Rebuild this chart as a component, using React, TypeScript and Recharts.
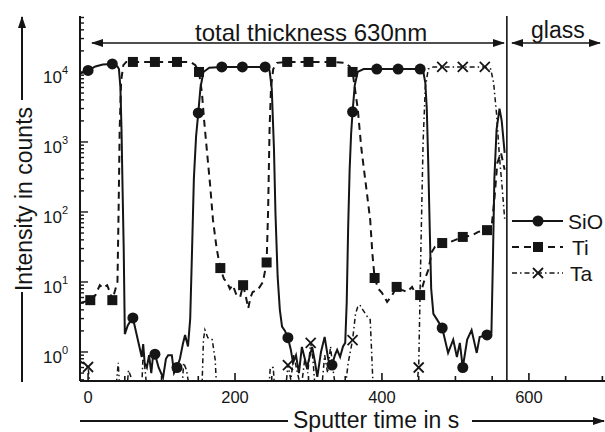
import { LineChart, Line, XAxis, YAxis, ReferenceLine } from 'recharts';

// SIMS depth profile of a SiO / Ti / Ta multilayer on glass
// time in s, intensity in counts

const INK = '#151515';
const FONT = '"Liberation Sans", Arial, Helvetica, sans-serif';

const sioCounts: [number, number][] = [
    [-11, 9500], [0, 10500], [10, 12000], [20, 12800], [33, 13000], [40, 12000], [42, 11000], [44, 6000],
    [45.5, 1500], [47, 200], [48.5, 30], [50, 1.8], [54, 2.4], [58, 2.8], [61, 3.06], [65, 2.0], [69, 1.3],
    [73, 0.85], [75, 1.3], [77, 0.7], [80, 0.6], [83, 0.9], [86, 0.5], [88, 0.8], [91, 0.93], [96, 0.6],
    [102, 0.43], [106, 0.8], [109, 0.9], [114, 0.9], [117, 0.5], [121, 0.6], [125, 0.8], [129, 1.3],
    [132, 1.75], [136, 1.2], [139, 3], [141.5, 28], [144, 300], [147, 1200], [150, 2600], [153, 6000],
    [157, 10000], [165, 11500], [182, 11800], [210, 11800], [241, 11800], [247, 10500], [250, 5800],
    [253, 800], [255, 100], [258, 12], [261, 4], [264, 2.3], [268, 2.0], [272, 1.6], [276, 1.07], [279, 0.7],
    [283, 0.9], [287, 0.5], [291, 1.18], [295, 0.8], [298, 0.6], [302, 0.9], [305, 1.18], [309, 0.7],
    [312, 0.44], [317, 1.0], [322, 1.64], [327, 0.77], [332, 0.65], [336, 0.9], [339, 1.07], [343, 0.85],
    [347, 1.2], [350, 1.35], [352, 5], [354, 60], [356, 400], [358, 1300], [360, 2700], [363, 6500],
    [367, 10000], [375, 11000], [393, 11000], [422, 11000], [452, 11000], [456, 10500], [459, 7000],
    [461, 3000], [463, 500], [465, 60], [467, 8], [470, 3.5], [475, 2.9], [482, 2.2], [490, 0.97],
    [497, 1.5], [502, 0.85], [506, 1.35], [510, 0.6], [516, 1.5], [522, 2.06], [529, 0.97], [533, 1.64],
    [543, 1.75], [549, 1.9], [551, 20], [553, 300], [556, 1500], [560, 3000], [563, 2000], [567, 700],
];
const sioMarkers = [0, 33, 61, 91, 121, 150, 182, 210, 241, 272, 332, 360, 393, 422, 452, 482, 510, 543];

const tiCounts: [number, number][] = [
    [-11, 5.0], [3, 5.5], [10, 6.5], [16, 9], [20, 8.2], [26, 9], [30, 7], [33, 5.5], [40, 10], [41.5, 100],
    [43, 1500], [45, 7500], [48, 12500], [52, 13900], [61, 13900], [91, 13900], [121, 13900], [140, 13800],
    [146, 12500], [151, 10000], [155, 5000], [158, 2000], [162, 700], [166, 250], [170, 77], [175, 30],
    [180, 15.8], [185, 11], [189, 10], [193, 8], [197, 9], [202, 6.5], [207, 6.1], [211, 9], [215, 6],
    [218, 4.2], [221, 6], [224, 7.2], [231, 7.7], [238, 10], [243, 19], [245, 100], [247, 1500], [249, 6000],
    [252, 11000], [257, 13500], [271, 13900], [300, 13900], [331, 13900], [350, 13500], [356, 12000],
    [360, 10000], [363, 6000], [367, 3000], [372, 800], [378, 250], [384, 77], [387, 25], [390, 11.4],
    [395, 8], [400, 7], [407, 5.2], [414, 6.5], [420, 8.5], [427, 7.7], [434, 7.2], [441, 8.5], [445, 7],
    [452, 6.5], [457, 10], [463, 14.8], [468, 27], [472, 31.6], [482, 36], [490, 36], [500, 40], [510, 44],
    [522, 46], [531, 52], [543, 55], [549, 58], [553, 150], [557, 500], [562, 700], [567, 400],
];
const tiMarkers = [3, 33, 61, 91, 121, 151, 180, 211, 243, 271, 300, 331, 360, 390, 420, 452, 482, 510, 543];

const taCounts: [number, number][] = [
    [-11, 0.75], [0, 0.61], [3, 0.3], [38, 0.3], [41, 0.7], [43, 0.3], [53, 0.3], [55, 0.55], [58, 0.45],
    [60, 0.3], [73, 0.3], [75, 1.0], [78, 0.5], [80, 0.3], [128, 0.3], [130, 0.7], [134, 0.55], [138, 0.3],
    [155, 0.3], [157, 1.5], [159, 2.06], [163, 1.6], [169, 1.5], [173, 0.77], [175, 0.3], [246, 0.3],
    [248, 0.6], [252, 0.6], [254, 0.3], [269, 0.3], [272, 0.65], [276, 0.4], [280, 0.9], [285, 0.5],
    [290, 0.3], [295, 0.8], [299, 0.5], [303, 1.35], [306, 0.8], [309, 0.3], [318, 0.3], [322, 0.9],
    [326, 0.5], [330, 1.2], [333, 0.6], [337, 0.3], [350, 0.3], [354, 0.7], [360, 1.48], [364, 3.5],
    [367, 4.4], [370, 4.7], [374, 4.0], [380, 3.2], [384, 2.9], [386, 0.97], [388, 0.3], [447, 0.3],
    [450, 0.6], [453, 30], [456, 1000], [459, 6000], [463, 11000], [470, 11800], [482, 11800],
    [510, 11800], [540, 11800], [548, 11000], [552, 7000], [556, 2500], [560, 600], [564, 200], [567, 80],
];
const taMarkers = [0, 272, 303, 360, 450, 482, 510, 540];

const xTicks = [0, 50, 100, 150, 200, 250, 300, 350, 400, 450, 500, 550, 600, 650, 700];
const yTicks = [
    0.4, 0.5, 0.6, 0.7, 0.8, 0.9, 1, 2, 3, 4, 5, 6, 7, 8, 9, 10, 20, 30, 40, 50, 60, 70, 80, 90,
    100, 200, 300, 400, 500, 600, 700, 800, 900, 1000, 2000, 3000, 4000, 5000, 6000, 7000, 8000, 9000,
    10000, 20000, 30000, 40000, 50000, 60000,
];
const glassStart = 570;

const toRows = (pts: [number, number][]) => pts.map(([t, v]) => ({ t, v }));
const sioData = toRows(sioCounts);
const tiData = toRows(tiCounts);
const taData = toRows(taCounts);

const XTick = (props: any) => {
    const { x, y, payload } = props;
    const major = payload.value % 200 === 0;
    return (
        <g>
            <line x1={x} x2={x} y1={y} y2={y - (major ? 8 : 5)} stroke={INK} strokeWidth={1.6} />
            {major && (
                <text x={x} y={y + 22} textAnchor="middle" fontSize={16.5} fontFamily={FONT} fill={INK}>
                    {payload.value}
                </text>
            )}
        </g>
    );
};

const YTick = (props: any) => {
    const { x, y, payload } = props;
    const lg = Math.log10(payload.value);
    const major = Math.abs(lg - Math.round(lg)) < 1e-6;
    return (
        <g>
            <line x1={x} x2={x + (major ? 8 : 4)} y1={y} y2={y} stroke={INK} strokeWidth={1.4} />
            {major && (
                <text x={x - 37} y={y + 11} fontSize={17} fontFamily={FONT} fill={INK}>
                    10<tspan dy={-9} fontSize={11}>{Math.round(lg)}</tspan>
                </text>
            )}
        </g>
    );
};

// markers only at a few sampled points, like the original plot
const markerDot = (kind: 'circle' | 'square' | 'cross', marks: number[]) => (p: any) => {
    const k = `${kind}-${p.index}`;
    if (!marks.includes(p.payload.t)) return <g key={k} />;
    const { cx, cy } = p;
    if (kind === 'circle') return <circle key={k} cx={cx} cy={cy} r={5.5} fill={INK} />;
    if (kind === 'square') return <rect key={k} x={cx - 5} y={cy - 5} width={10} height={10} fill={INK} />;
    return (
        <g key={k} stroke={INK} strokeWidth={1.8}>
            <line x1={cx - 5} y1={cy - 5} x2={cx + 5} y2={cy + 5} />
            <line x1={cx - 5} y1={cy + 5} x2={cx + 5} y2={cy - 5} />
        </g>
    );
};

const Overlay = () => (
    <svg width={605} height={432} style={{ position: 'absolute', left: 0, top: 0, pointerEvents: 'none' }}>
        <defs>
            <marker id="ah" markerWidth="12" markerHeight="8" refX="11" refY="4" orient="auto-start-reverse"
                markerUnits="userSpaceOnUse">
                <path d="M0,0 L12,4 L0,8 Z" fill={INK} />
            </marker>
        </defs>
        <g fontFamily={FONT} fill={INK}>
            {/* layer annotations */}
            <line x1={92} y1={43} x2={504} y2={43} stroke={INK} strokeWidth={1.6}
                markerStart="url(#ah)" markerEnd="url(#ah)" />
            <text x={195} y={41} fontSize={24}>total thickness 630nm</text>
            <line x1={512} y1={43} x2={600} y2={43} stroke={INK} strokeWidth={1.6}
                markerStart="url(#ah)" markerEnd="url(#ah)" />
            <text x={531} y={38} fontSize={23}>glass</text>

            {/* axis titles */}
            <line x1={80} y1={421} x2={288} y2={421} stroke={INK} strokeWidth={2} />
            <text x={293} y={428} fontSize={23}>Sputter time in s</text>
            <line x1={472} y1={421} x2={604} y2={421} stroke={INK} strokeWidth={2} markerEnd="url(#ah)" />

            <line x1={22} y1={382} x2={22} y2={292} stroke={INK} strokeWidth={2} />
            <text x={32} y={199} fontSize={23} textAnchor="middle" transform="rotate(-90 32 199)">
                Intensity in counts
            </text>
            <line x1={22} y1={100} x2={22} y2={17} stroke={INK} strokeWidth={2} markerEnd="url(#ah)" />

            {/* legend */}
            <line x1={512} y1={221} x2={563} y2={221} stroke={INK} strokeWidth={2} />
            <circle cx={538} cy={221} r={5.5} fill={INK} />
            <text x={568} y={229} fontSize={21}>SiO</text>

            <line x1={512} y1={247} x2={563} y2={247} stroke={INK} strokeWidth={2} strokeDasharray="7 5" />
            <rect x={533} y={242} width={10} height={10} fill={INK} />
            <text x={572} y={255} fontSize={21}>Ti</text>

            <line x1={512} y1={273} x2={563} y2={273} stroke={INK} strokeWidth={1.5} strokeDasharray="5 3 1.5 3" />
            <g stroke={INK} strokeWidth={1.8}>
                <line x1={533} y1={268} x2={543} y2={278} />
                <line x1={533} y1={278} x2={543} y2={268} />
            </g>
            <text x={570} y={281} fontSize={21}>Ta</text>
        </g>
    </svg>
);

export default function App() {
    return (
        <div style={{ position: 'absolute', left: 0, top: 0, width: 605, height: 432, overflow: 'hidden', background: '#fff' }}>
            <LineChart width={640} height={432} margin={{ top: 16, right: 20, bottom: 21, left: 30 }}>
                <XAxis
                    dataKey="t"
                    type="number"
                    domain={[-11, 724]}
                    allowDataOverflow
                    ticks={xTicks}
                    interval={0}
                    tick={<XTick />}
                    tickLine={false}
                    tickSize={0}
                    tickMargin={0}
                    height={30}
                    axisLine={{ stroke: INK, strokeWidth: 2 }}
                />
                <XAxis
                    xAxisId="top"
                    orientation="top"
                    dataKey="t"
                    type="number"
                    domain={[-11, 724]}
                    height={0}
                    tick={false}
                    tickLine={false}
                    axisLine={{ stroke: INK, strokeWidth: 2 }}
                />
                <YAxis
                    type="number"
                    scale="log"
                    domain={[0.385, 63000]}
                    allowDataOverflow
                    ticks={yTicks}
                    interval={0}
                    tick={<YTick />}
                    tickLine={false}
                    tickSize={0}
                    tickMargin={0}
                    width={50}
                    axisLine={{ stroke: INK, strokeWidth: 2 }}
                />
                <ReferenceLine x={glassStart} stroke={INK} strokeWidth={1.6} />
                <Line
                    data={taData}
                    dataKey="v"
                    type="linear"
                    stroke={INK}
                    strokeWidth={1.5}
                    strokeDasharray="5 3 1.5 3"
                    dot={markerDot('cross', taMarkers)}
                    activeDot={false}
                    isAnimationActive={false}
                />
                <Line
                    data={tiData}
                    dataKey="v"
                    type="linear"
                    stroke={INK}
                    strokeWidth={2}
                    strokeDasharray="7 5"
                    dot={markerDot('square', tiMarkers)}
                    activeDot={false}
                    isAnimationActive={false}
                />
                <Line
                    data={sioData}
                    dataKey="v"
                    type="linear"
                    stroke={INK}
                    strokeWidth={2}
                    dot={markerDot('circle', sioMarkers)}
                    activeDot={false}
                    isAnimationActive={false}
                />
            </LineChart>
            <Overlay />
        </div>
    );
}
